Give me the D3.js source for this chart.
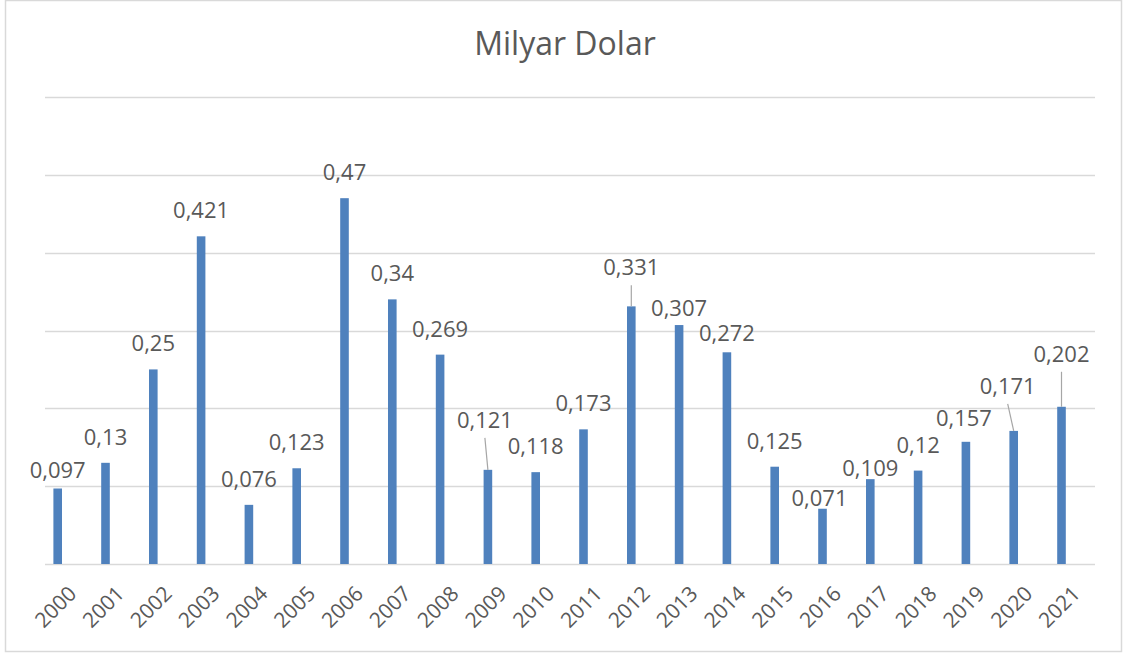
<!DOCTYPE html>
<html>
<head>
<meta charset="utf-8">
<script src="https://cdn.jsdelivr.net/npm/d3@7"></script>
<style>
  body { margin: 0; background: #fff; }
  #chart text { font-family: "Open Sans", sans-serif; fill: #595959; }
</style>
</head>
<body>
<div id="chart"><svg></svg></div>
<script>
var years = ["2000","2001","2002","2003","2004","2005","2006","2007","2008","2009","2010",
             "2011","2012","2013","2014","2015","2016","2017","2018","2019","2020","2021"];
var values = [0.097, 0.13, 0.25, 0.421, 0.076, 0.123, 0.47, 0.34, 0.269, 0.121, 0.118,
              0.173, 0.331, 0.307, 0.272, 0.125, 0.071, 0.109, 0.12, 0.157, 0.171, 0.202];
var gridTicks = [0, 0.1, 0.2, 0.3, 0.4, 0.5, 0.6];
var title = "Milyar Dolar";

// labels Excel pushed around (dx, dy from the normal spot), leader = draw a line
var moved = {
  "2000": {dx: 0, dy: 7},
  "2009": {dx: -3, dy: -24, leader: true},
  "2012": {dx: 0, dy: -13, leader: true},
  "2013": {dx: 0, dy: 9},
  "2014": {dx: 0, dy: 7},
  "2016": {dx: -3, dy: 15},
  "2017": {dx: 0, dy: 15},
  "2019": {dx: -2, dy: 2},
  "2020": {dx: -6, dy: -19, leader: true},
  "2021": {dx: 0, dy: -27, leader: true}
};

var width = 1125, height = 654;
var plotLeft = 45, plotRight = 1095;

var svg = d3.select("#chart svg")
    .attr("width", width)
    .attr("height", height);

svg.append("rect")
    .attr("x", 5.5).attr("y", 0.5)
    .attr("width", 1116).attr("height", 651)
    .attr("fill", "#fff")
    .attr("stroke", "#d9d9d9")
    .attr("stroke-width", 1.5);

var x = d3.scaleBand()
    .domain(years)
    .range([33.8, 1085.4])
    .paddingInner(0.82)
    .paddingOuter(0.41);

var y = d3.scaleLinear()
    .domain([0, 0.6])
    .range([564, 97]);

svg.append("text")
    .attr("x", 565)
    .attr("y", 55)
    .attr("text-anchor", "middle")
    .style("font-size", "32px")
    .text(title);

svg.append("g")
    .selectAll("line")
    .data(gridTicks)
    .enter()
    .append("line")
    .attr("x1", plotLeft)
    .attr("x2", plotRight)
    .attr("y1", function(d) { return Math.round(y(d)) + 0.5; })
    .attr("y2", function(d) { return Math.round(y(d)) + 0.5; })
    .attr("stroke", "#d9d9d9")
    .attr("stroke-width", 1.5);

svg.append("g")
    .selectAll("rect")
    .data(values)
    .enter()
    .append("rect")
    .attr("x", function(d, i) { return x(years[i]); })
    .attr("width", x.bandwidth())
    .attr("y", function(d) { return y(d); })
    .attr("height", function(d) { return y(0) - y(d); })
    .attr("fill", "#4f81bd");

function labelPos(d, i) {
  var m = moved[years[i]] || {dx: 0, dy: 0};
  return {
    x: x(years[i]) + x.bandwidth() / 2 + m.dx,
    y: y(d) - 18 + m.dy
  };
}

// leader lines
svg.append("g")
    .selectAll("line")
    .data(values.map(function(d, i) { return {d: d, i: i}; })
      .filter(function(o) { return moved[years[o.i]] && moved[years[o.i]].leader; }))
    .enter()
    .append("line")
    .attr("x1", function(o) { return labelPos(o.d, o.i).x; })
    .attr("y1", function(o) { return labelPos(o.d, o.i).y + 10; })
    .attr("x2", function(o) { return x(years[o.i]) + x.bandwidth() / 2; })
    .attr("y2", function(o) { return y(o.d); })
    .attr("stroke", "#a6a6a6")
    .attr("stroke-width", 1.2);

svg.append("g")
    .selectAll("text")
    .data(values)
    .enter()
    .append("text")
    .attr("x", function(d, i) { return labelPos(d, i).x; })
    .attr("y", function(d, i) { return labelPos(d, i).y; })
    .attr("text-anchor", "middle")
    .style("font-size", "22px")
    .text(function(d) { return String(d).replace(".", ","); });

// x axis labels, turned 45 degrees
var xAxis = d3.axisBottom(x).tickSize(0).tickPadding(0);
var gx = svg.append("g")
    .attr("transform", "translate(0," + y(0) + ")")
    .call(xAxis);
gx.select(".domain").remove();
gx.selectAll("text")
    .style("font-size", "21px")
    .attr("text-anchor", "end")
    .attr("dy", 0)
    .attr("y", 0)
    .attr("transform", "translate(20,31) rotate(-45)");
</script>
</body>
</html>
